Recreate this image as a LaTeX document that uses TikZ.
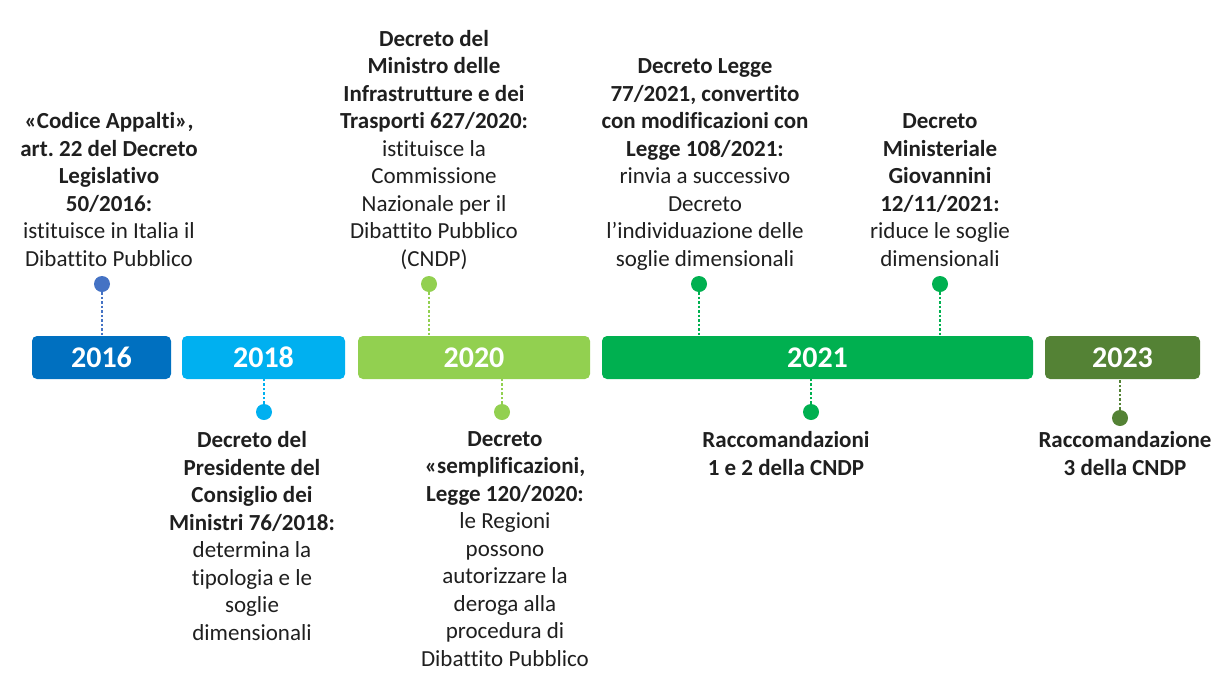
\documentclass[tikz,border=0pt]{standalone}
\usepackage{fontspec}
\setmainfont{Carlito}[Ligatures=CommonOff]
\usetikzlibrary{positioning}
\definecolor{blu}{HTML}{0070C0}
\definecolor{bludot}{HTML}{4472C4}
\definecolor{azzurro}{HTML}{00B0F0}
\definecolor{verdechiaro}{HTML}{92D050}
\definecolor{verde}{HTML}{00B050}
\definecolor{oliva}{HTML}{548235}
\definecolor{testo}{HTML}{1F1F1F}
\begin{document}
\begin{tikzpicture}[x=1pt,y=-1pt,
  anno/.style={rectangle,rounded corners=5pt,minimum height=43pt,inner sep=0pt,text=white,font=\fontsize{30}{36}\selectfont\bfseries},
  punto/.style={circle,minimum size=16pt,inner sep=0pt,fill=#1},
  linea/.style={draw=#1,line width=2.5pt,dash pattern=on 2.5pt off 2pt},
  sopra/.style={align=center,inner sep=0pt,text=testo,font=\fontsize{23}{27.5}\selectfont,execute at end node=\strut},
  sotto/.style={align=center,inner sep=0pt,text=testo,font=\fontsize{23}{27.5}\selectfont,execute at begin node=\strut}]
\useasboundingbox (0,0) rectangle (1224,691);
\node[anno,fill=blu,minimum width=139pt] (a2016) at (101.5,357.5) {2016};
\node[anno,fill=azzurro,minimum width=163pt] (a2018) at (263.5,357.5) {2018};
\node[anno,fill=verdechiaro,minimum width=232pt] (a2020) at (474,357.5) {2020};
\node[anno,fill=verde,minimum width=431pt] (a2021) at (817.5,357.5) {2021};
\node[anno,fill=oliva,minimum width=155pt] (a2023) at (1122.5,357.5) {2023};
\node[punto=bludot] (p2016) at (102,284) {};
\node[punto=verdechiaro] (p2020) at (429,284) {};
\node[punto=verde] (p2021a) at (699,284) {};
\node[punto=verde] (p2021b) at (940,284) {};
\node[punto=azzurro] (p2018) at (264,412) {};
\node[punto=verdechiaro] (p2020b) at (502,412) {};
\node[punto=verde] (p2021c) at (811,412) {};
\node[punto=oliva] (p2023) at (1120,418) {};
\draw[linea=bludot] (p2016.south) -- (p2016.south |- a2016.north);
\draw[linea=verdechiaro] (p2020.south) -- (p2020.south |- a2020.north);
\draw[linea=verde] (p2021a.south) -- (p2021a.south |- a2021.north);
\draw[linea=verde] (p2021b.south) -- (p2021b.south |- a2021.north);
\draw[linea=azzurro] (p2018.north) -- (p2018.north |- a2018.south);
\draw[linea=verdechiaro] (p2020b.north) -- (p2020b.north |- a2020.south);
\draw[linea=verde] (p2021c.north) -- (p2021c.north |- a2021.south);
\draw[linea=oliva] (p2023.north) -- (p2023.north |- a2023.south);
\node[sopra,above=1pt of p2016,xshift=7pt] (t2016) {\textbf{«Codice Appalti»,}\\\textbf{art.\ 22 del Decreto}\\\textbf{Legislativo}\\\textbf{50/2016:}\\istituisce in Italia il\\Dibattito Pubblico};
\node[sopra,above=1pt of p2020,xshift=5pt] (t2020) {\textbf{Decreto del}\\\textbf{Ministro delle}\\\textbf{Infrastrutture e dei}\\\textbf{Trasporti 627/2020:}\\istituisce la\\Commissione\\Nazionale per il\\Dibattito Pubblico\\(CNDP)};
\node[sopra,above=1pt of p2021a,xshift=6pt] (t2021a) {\textbf{Decreto Legge}\\\textbf{77/2021, convertito}\\\textbf{con modificazioni con}\\\textbf{Legge 108/2021:}\\rinvia a successivo\\Decreto\\l’individuazione delle\\soglie dimensionali};
\node[sopra,above=1pt of p2021b] (t2021b) {\textbf{Decreto}\\\textbf{Ministeriale}\\\textbf{Giovannini}\\\textbf{12/11/2021:}\\riduce le soglie\\dimensionali};
\node[sotto,below=11pt of p2018,xshift=-12pt] (t2018) {\textbf{Decreto del}\\\textbf{Presidente del}\\\textbf{Consiglio dei}\\\textbf{Ministri 76/2018:}\\determina la\\tipologia e le\\soglie\\dimensionali};
\node[sotto,below=11pt of p2020b,xshift=3pt] (t2020b) {\textbf{Decreto}\\\textbf{«semplificazioni,}\\\textbf{Legge 120/2020:}\\le Regioni\\possono\\autorizzare la\\deroga alla\\procedura di\\Dibattito Pubblico};
\node[sotto,below=11pt of p2021c,xshift=-25pt] (t2021c) {\textbf{Raccomandazioni}\\\textbf{1 e 2 della CNDP}};
\node[sotto,below=5pt of p2023,xshift=5pt] (t2023) {\textbf{Raccomandazione}\\\textbf{3 della CNDP}};
\end{tikzpicture}
\end{document}
